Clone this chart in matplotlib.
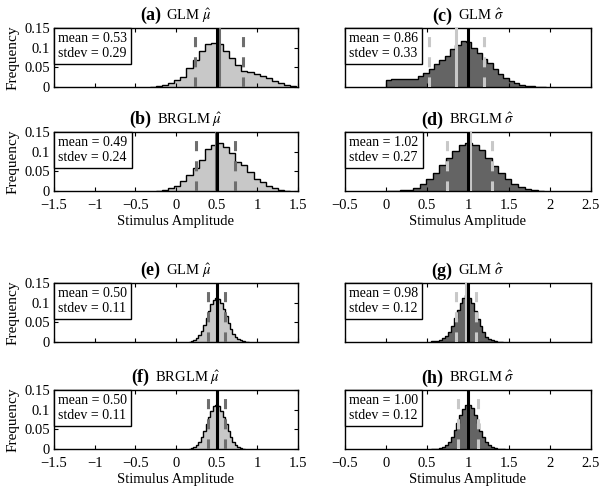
import numpy as np
import matplotlib
matplotlib.use("Agg")
import matplotlib.pyplot as plt
from matplotlib.offsetbox import TextArea, HPacker, AnchoredOffsetbox

plt.rcParams["font.family"] = ["Liberation Serif", "DejaVu Serif"]
plt.rcParams["mathtext.fontset"] = "stix"

# === DATA ===
# each histogram: first bin edge, bin width, frequencies
a_start, a_width = -0.32, 0.075
a_freq = [0.001, 0.002, 0.004, 0.011, 0.018, 0.026, 0.048, 0.068, 0.092, 0.110,
          0.111, 0.110, 0.092, 0.075, 0.057, 0.041, 0.037, 0.032, 0.028, 0.022,
          0.016, 0.011, 0.006, 0.003]

b_start, b_width = -0.245, 0.075
b_freq = [0.001, 0.003, 0.007, 0.014, 0.026, 0.040, 0.058, 0.078, 0.108, 0.118,
          0.121, 0.111, 0.097, 0.074, 0.066, 0.048, 0.030, 0.022, 0.013, 0.007,
          0.003, 0.001]

c_start, c_width = 0.0, 0.065
c_freq = [0.018, 0.020, 0.021, 0.020, 0.020, 0.021, 0.028, 0.036, 0.046, 0.058,
          0.068, 0.080, 0.097, 0.108, 0.116, 0.114, 0.099, 0.087, 0.072, 0.062,
          0.045, 0.034, 0.024, 0.015, 0.009, 0.005, 0.003, 0.002, 0.001, 0.001]

d_start, d_width = 0.01, 0.08
d_freq = [0.0, 0.001, 0.002, 0.003, 0.007, 0.018, 0.030, 0.045, 0.067, 0.084,
          0.101, 0.116, 0.123, 0.118, 0.105, 0.084, 0.063, 0.045, 0.030, 0.018,
          0.010, 0.005, 0.002, 0.001]

e_start, e_width = 0.155, 0.03
e_freq = [0.001, 0.002, 0.004, 0.009, 0.017, 0.028, 0.043, 0.061, 0.080, 0.097,
          0.108, 0.113, 0.110, 0.099, 0.083, 0.065, 0.048, 0.033, 0.021, 0.012,
          0.007, 0.004, 0.002, 0.001, 0.0005]

f_start, f_width = 0.155, 0.03
f_freq = [0.001, 0.002, 0.005, 0.010, 0.018, 0.030, 0.045, 0.063, 0.082, 0.098,
          0.109, 0.112, 0.109, 0.098, 0.082, 0.063, 0.046, 0.031, 0.019, 0.011,
          0.006, 0.003, 0.001]

g_start, g_width = 0.5475, 0.035
g_freq = [0.002, 0.002, 0.003, 0.005, 0.009, 0.016, 0.026, 0.042, 0.061, 0.081,
          0.100, 0.113, 0.119, 0.112, 0.099, 0.079, 0.059, 0.040, 0.025, 0.014,
          0.008, 0.004, 0.002, 0.001, 0.0005]

h_start, h_width = 0.545, 0.035
h_freq = [0.0002, 0.0004, 0.001, 0.0025, 0.005, 0.010, 0.019, 0.031, 0.048, 0.067,
          0.087, 0.103, 0.111, 0.113, 0.104, 0.087, 0.066, 0.047, 0.031, 0.019,
          0.011, 0.005, 0.0025, 0.001, 0.0004, 0.0002]

letters = ["a", "b", "c", "d", "e", "f", "g", "h"]
models = ["GLM", "BRGLM", "GLM", "BRGLM", "GLM", "BRGLM", "GLM", "BRGLM"]
params = ["mu", "mu", "sigma", "sigma", "mu", "mu", "sigma", "sigma"]
means = [0.53, 0.49, 0.86, 1.02, 0.50, 0.50, 0.98, 1.00]
stdevs = [0.29, 0.24, 0.33, 0.27, 0.11, 0.11, 0.12, 0.12]
true_vals = {"mu": 0.5, "sigma": 1.0}

starts = [a_start, b_start, c_start, d_start, e_start, f_start, g_start, h_start]
widths = [a_width, b_width, c_width, d_width, e_width, f_width, g_width, h_width]
freqs = [a_freq, b_freq, c_freq, d_freq, e_freq, f_freq, g_freq, h_freq]

mu_ticks = [-1.5, -1, -0.5, 0, 0.5, 1, 1.5]
mu_ticklabels = ["\u22121.5", "\u22121", "\u22120.5", "0", "0.5", "1", "1.5"]
sig_ticks = [-0.5, 0, 0.5, 1, 1.5, 2, 2.5]
sig_ticklabels = ["\u22120.5", "0", "0.5", "1", "1.5", "2", "2.5"]
y_ticks = [0, 0.05, 0.1, 0.15]
y_ticklabels = ["0", "0.05", "0.1", "0.15"]

# === FIGURE ===
fig = plt.figure(figsize=(6.02, 4.87), dpi=100)

col_x = {"mu": (0.0897, 0.405), "sigma": (0.573, 0.4086)}
row_y = [0.8214, 0.6078, 0.2977, 0.078]
ax_h = 0.121

light = "#c8c8c8"
dark = "#646464"
mark_dark = "#6e6e6e"

for i, letter in enumerate(letters):
    p = params[i]
    row = (i // 4) * 2 + (i % 2)
    x0, w = col_x[p]
    ax = fig.add_axes([x0, row_y[row], w, ax_h])

    edges = starts[i] + widths[i] * np.arange(len(freqs[i]) + 1)
    fill_c = light if p == "mu" else dark
    mark_c = mark_dark if p == "mu" else light

    ax.stairs(freqs[i], edges, fill=True, color=fill_c, zorder=1)
    ax.stairs(freqs[i], edges, color="k", lw=1.0, zorder=2)

    for xv in (means[i] - stdevs[i], means[i] + stdevs[i]):
        ax.plot([xv, xv], [0, 0.13], color=mark_c, lw=2.2,
                linestyle=(0, (3.3, 3.3)), zorder=3)
    ax.axvline(means[i], color=mark_c, lw=2.2, zorder=3)
    ax.axvline(true_vals[p], color="k", lw=2.2, zorder=4)

    ax.set_ylim(0, 0.15)
    if p == "mu":
        ax.set_xlim(-1.5, 1.5)
        ax.set_xticks(mu_ticks)
        ax.set_xticklabels(mu_ticklabels)
        ax.set_yticks(y_ticks)
        ax.set_yticklabels(y_ticklabels)
        ax.set_ylabel("Frequency", fontsize=11, labelpad=3)
        sym = r"$\hat{\mu}$"
    else:
        ax.set_xlim(-0.5, 2.5)
        ax.set_xticks(sig_ticks)
        ax.set_xticklabels(sig_ticklabels)
        ax.set_yticks([])
        sym = r"$\hat{\sigma}$"

    ax.tick_params(direction="in", length=3, width=0.8, labelsize=10.5,
                   top=True, right=True)
    ax.tick_params(axis="x", pad=6)
    ax.tick_params(axis="y", pad=3)
    if i % 2 == 0:
        ax.tick_params(labelbottom=False)
    else:
        ax.set_xlabel("Stimulus Amplitude", fontsize=10.5, labelpad=2)
    for s in ax.spines.values():
        s.set_linewidth(1.0)

    ax.annotate(f"mean = {means[i]:.2f}\nstdev = {stdevs[i]:.2f}",
                xy=(0, 1), xycoords="axes fraction", xytext=(3, -3),
                textcoords="offset points", ha="left", va="top",
                fontsize=10, linespacing=1.2, zorder=6,
                bbox=dict(boxstyle="square,pad=0.3", fc="white", ec="k", lw=1.0))

    # title: bold letter + normal text
    t1 = TextArea(f"({letter})", textprops=dict(fontsize=13, fontweight="bold"))
    t2 = TextArea(f"{models[i]} {sym}", textprops=dict(fontsize=10.5))
    box = HPacker(children=[t1, t2], align="baseline", pad=0, sep=4)
    anch = AnchoredOffsetbox(loc="lower center", child=box, pad=0, borderpad=0,
                             frameon=False, bbox_to_anchor=(0.5, 1.06),
                             bbox_transform=ax.transAxes)
    ax.add_artist(anch)

fig.savefig("out.png", dpi=100)
